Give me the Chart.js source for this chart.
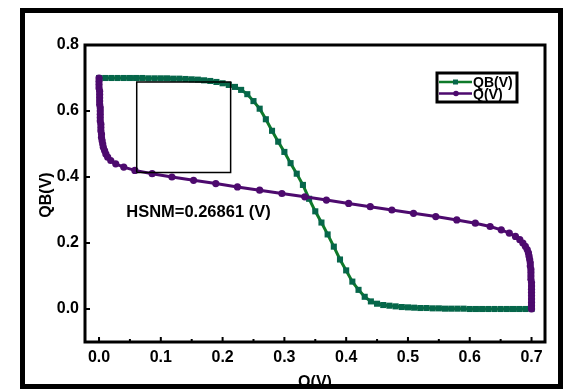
<!DOCTYPE html>
<html>
<head>
<meta charset="utf-8">
<script src="https://cdn.jsdelivr.net/npm/chart.js@4.4.1/dist/chart.umd.min.js"></script>
<style>
  html, body { margin: 0; padding: 0; background: #fff; }
  #wrap { position: relative; width: 571px; height: 389px; overflow: hidden; }
  #frame { position: absolute; left: 20px; top: 8px; width: 543px; height: 381px;
           border: 5px solid #000; box-sizing: border-box; pointer-events: none; }
  canvas { position: absolute; left: 0; top: 0; }
</style>
</head>
<body>
<div id="wrap">
  <canvas id="vtc" width="571" height="389"></canvas>
  <div id="frame"></div>
</div>
<script>
// QB(V) curve: output QB swept over input Q
const qbX = [0.00, 0.01, 0.02, 0.03, 0.04, 0.05, 0.06, 0.07, 0.08, 0.09,
             0.10, 0.11, 0.12, 0.13, 0.14, 0.15, 0.16, 0.17, 0.18, 0.19,
             0.20, 0.21, 0.22, 0.23, 0.24, 0.25, 0.26, 0.27, 0.28, 0.29,
             0.30, 0.31, 0.32, 0.33, 0.34, 0.35, 0.36, 0.37, 0.38, 0.39,
             0.40, 0.41, 0.42, 0.43, 0.44, 0.45, 0.46, 0.47, 0.48, 0.49,
             0.50, 0.51, 0.52, 0.53, 0.54, 0.55, 0.56, 0.57, 0.58, 0.59,
             0.60, 0.61, 0.62, 0.63, 0.64, 0.65, 0.66, 0.67, 0.68, 0.69, 0.70];
const qbY = [0.700, 0.700, 0.700, 0.700, 0.700, 0.700, 0.700, 0.700, 0.699, 0.699,
             0.699, 0.699, 0.698, 0.698, 0.697, 0.696, 0.695, 0.693, 0.691, 0.688,
             0.684, 0.679, 0.673, 0.664, 0.651, 0.630, 0.607, 0.575, 0.540, 0.507,
             0.476, 0.442, 0.410, 0.376, 0.334, 0.296, 0.262, 0.226, 0.189, 0.150,
             0.117, 0.083, 0.058, 0.037, 0.023, 0.016, 0.012, 0.010, 0.008, 0.006,
             0.005, 0.004, 0.003, 0.003, 0.002, 0.002, 0.001, 0.001, 0.001, 0.001,
             0.000, 0.000, 0.000, 0.000, 0.000, 0.000, 0.000, 0.000, 0.000, 0.000, 0.000];

// Q(V) curve: Q swept over QB (mirrored inverter)
const qY = [0.70, 0.69, 0.68, 0.67, 0.66, 0.65, 0.64, 0.63, 0.62, 0.61,
            0.60, 0.59, 0.58, 0.57, 0.56, 0.55, 0.54, 0.53, 0.52, 0.51,
            0.50, 0.49, 0.48, 0.47, 0.46, 0.45, 0.44, 0.43, 0.42, 0.41,
            0.40, 0.39, 0.38, 0.37, 0.36, 0.35, 0.34, 0.33, 0.32, 0.31,
            0.30, 0.29, 0.28, 0.27, 0.26, 0.25, 0.24, 0.23, 0.22, 0.21,
            0.20, 0.19, 0.18, 0.17, 0.16, 0.15, 0.14, 0.13, 0.12, 0.11,
            0.10, 0.09, 0.08, 0.07, 0.06, 0.05, 0.04, 0.03, 0.02, 0.01, 0.00];
const qX = [0.000, 0.000, 0.000, 0.000, 0.001, 0.001, 0.001, 0.001, 0.001, 0.002,
            0.002, 0.002, 0.002, 0.002, 0.003, 0.003, 0.003, 0.004, 0.004, 0.005,
            0.006, 0.007, 0.009, 0.011, 0.014, 0.019, 0.027, 0.040, 0.058, 0.086,
            0.118, 0.153, 0.189, 0.224, 0.260, 0.296, 0.333, 0.368, 0.404, 0.439,
            0.474, 0.509, 0.545, 0.579, 0.609, 0.633, 0.651, 0.664, 0.674, 0.681,
            0.686, 0.690, 0.693, 0.695, 0.696, 0.697, 0.698, 0.698, 0.699, 0.699,
            0.699, 0.699, 0.700, 0.700, 0.700, 0.700, 0.700, 0.700, 0.700, 0.700, 0.700];

// largest square fitted in the upper-left eye
const eyeX = [0.061, 0.061, 0.213, 0.213, 0.061];
const eyeY = [0.414, 0.688, 0.688, 0.414, 0.414];

const xTicks = [0.0, 0.1, 0.2, 0.3, 0.4, 0.5, 0.6, 0.7];
const xMinorTicks = [0.05, 0.15, 0.25, 0.35, 0.45, 0.55, 0.65];
const yTicks = [0.0, 0.2, 0.4, 0.6, 0.8];

const seriesNames = ['QB(V)', 'Q(V)'];
const hsnmLabel = 'HSNM=0.26861 (V)';
const xTitle = 'Q(V)';
const yTitle = 'QB(V)';

const GREEN_LINE = '#0e7a2a';
const GREEN_MARK = '#06664a';
const PURPLE = '#4d0a6e';
const FONT = '"Liberation Sans", Arial, sans-serif';

function toPoints(xs, ys) {
  return xs.map((v, i) => ({ x: v, y: ys[i] }));
}

// frame, inward ticks, annotation, legend and axis titles
const decorations = {
  id: 'decorations',
  afterDraw(chart) {
    const { ctx, chartArea: a, scales: { x, y } } = chart;
    ctx.save();

    ctx.strokeStyle = '#000';
    ctx.lineWidth = 3;
    ctx.strokeRect(a.left, a.top, a.right - a.left, a.bottom - a.top);

    ctx.lineWidth = 2;
    ctx.beginPath();
    xTicks.forEach(v => {
      const px = x.getPixelForValue(v);
      ctx.moveTo(px, a.bottom); ctx.lineTo(px, a.bottom - 5);
    });
    xMinorTicks.forEach(v => {
      const px = x.getPixelForValue(v);
      ctx.moveTo(px, a.bottom); ctx.lineTo(px, a.bottom - 3);
    });
    yTicks.forEach(v => {
      const py = y.getPixelForValue(v);
      ctx.moveTo(a.left, py); ctx.lineTo(a.left + 5, py);
    });
    ctx.stroke();

    ctx.fillStyle = '#000';
    ctx.font = 'bold 16.5px ' + FONT;
    ctx.textAlign = 'left';
    ctx.textBaseline = 'alphabetic';
    ctx.fillText(hsnmLabel, x.getPixelForValue(0.044), y.getPixelForValue(0.298) + 6);

    // legend box
    const lx = 437, ly = 73, lw = 80, lh = 29;
    ctx.strokeStyle = '#000';
    ctx.lineWidth = 3;
    ctx.strokeRect(lx, ly, lw, lh);
    const rows = [
      { name: seriesNames[0], line: GREEN_LINE, mark: GREEN_MARK, style: 'rect', yy: ly + 9 },
      { name: seriesNames[1], line: PURPLE, mark: PURPLE, style: 'circle', yy: ly + 20.5 }
    ];
    ctx.font = 'bold 14px ' + FONT;
    ctx.textAlign = 'left';
    ctx.textBaseline = 'alphabetic';
    rows.forEach(r => {
      ctx.strokeStyle = r.line;
      ctx.lineWidth = 2.5;
      ctx.beginPath();
      ctx.moveTo(lx + 2, r.yy); ctx.lineTo(lx + 35, r.yy);
      ctx.stroke();
      ctx.fillStyle = r.mark;
      if (r.style === 'rect') {
        ctx.fillRect(lx + 16, r.yy - 2.5, 5, 5);
      } else {
        ctx.beginPath(); ctx.arc(lx + 19, r.yy, 2.8, 0, Math.PI * 2); ctx.fill();
      }
      ctx.fillStyle = '#000';
      ctx.fillText(r.name, lx + 36, r.yy + 5);
    });

    // axis titles
    ctx.font = 'bold 16px ' + FONT;
    ctx.textAlign = 'center';
    ctx.textBaseline = 'alphabetic';
    ctx.fillText(xTitle, 315, 387);
    ctx.translate(47, 195);
    ctx.rotate(-Math.PI / 2);
    ctx.textBaseline = 'middle';
    ctx.fillText(yTitle, 0, 0);

    ctx.restore();
  }
};

const tickFont = { family: FONT, size: 16, weight: 'bold' };

new Chart(document.getElementById('vtc').getContext('2d'), {
  type: 'scatter',
  data: {
    datasets: [
      {
        label: 'eye',
        data: toPoints(eyeX, eyeY),
        showLine: true,
        borderColor: '#000',
        borderWidth: 1.5,
        pointRadius: 0,
        tension: 0
      },
      {
        label: seriesNames[1],
        data: toPoints(qX, qY),
        showLine: true,
        borderColor: PURPLE,
        borderWidth: 3,
        pointStyle: 'circle',
        pointRadius: 3.6,
        pointBackgroundColor: PURPLE,
        pointBorderColor: PURPLE,
        pointBorderWidth: 0,
        tension: 0
      },
      {
        label: seriesNames[0],
        data: toPoints(qbX, qbY),
        showLine: true,
        borderColor: GREEN_LINE,
        borderWidth: 3,
        pointStyle: 'rect',
        pointRadius: 4.3,
        pointBackgroundColor: GREEN_MARK,
        pointBorderColor: GREEN_MARK,
        pointBorderWidth: 0,
        tension: 0
      }
    ]
  },
  options: {
    responsive: false,
    animation: false,
    events: [],
    layout: { padding: { top: 45, right: 26, left: 0, bottom: 0 } },
    plugins: { legend: { display: false }, tooltip: { enabled: false } },
    scales: {
      x: {
        type: 'linear',
        min: -0.0227,
        max: 0.7218,
        grid: { display: false, drawTicks: false },
        border: { display: false },
        afterBuildTicks: s => { s.ticks = xTicks.map(v => ({ value: v })); },
        afterFit: s => { s.height = 47; },
        ticks: {
          autoSkip: false, maxRotation: 0, padding: 6,
          color: '#000', font: tickFont,
          callback: v => v.toFixed(1)
        }
      },
      y: {
        type: 'linear',
        min: -0.1,
        max: 0.8,
        grid: { display: false, drawTicks: false },
        border: { display: false },
        afterBuildTicks: s => { s.ticks = yTicks.map(v => ({ value: v })); },
        afterFit: s => { s.width = 85; },
        ticks: {
          autoSkip: false, padding: 6,
          color: '#000', font: tickFont,
          callback: v => v.toFixed(1)
        }
      }
    }
  },
  plugins: [decorations]
});
</script>
</body>
</html>
